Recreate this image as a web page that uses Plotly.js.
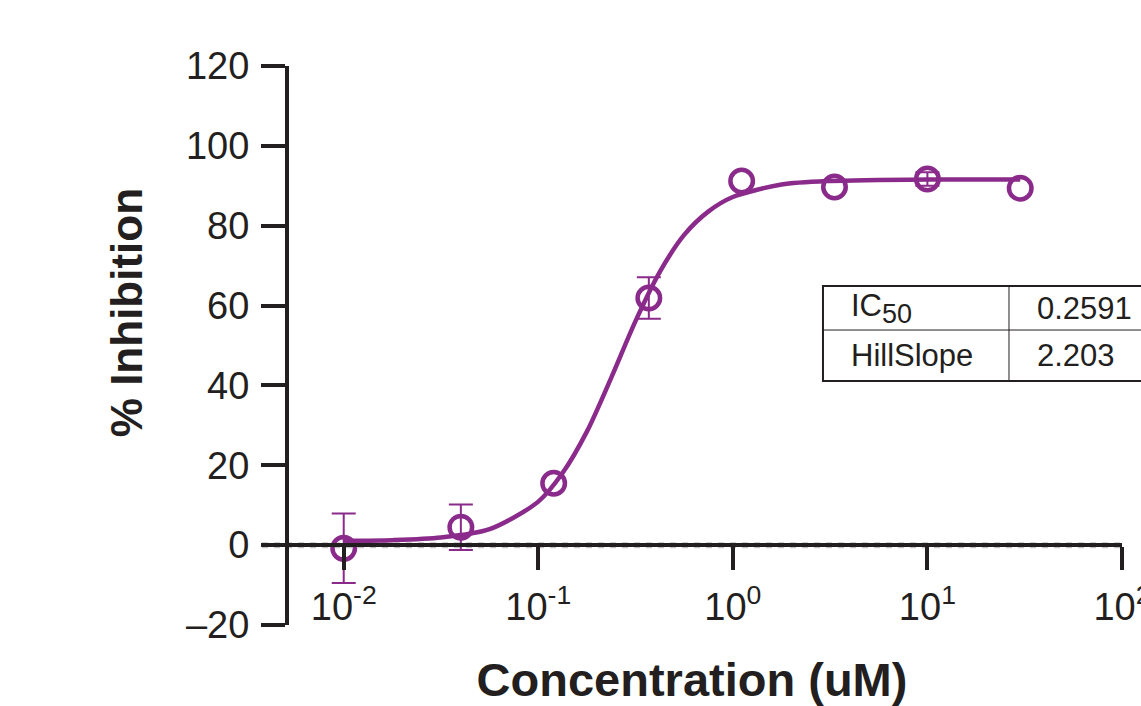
<!DOCTYPE html>
<html>
<head>
<meta charset="utf-8">
<script src="https://cdn.plot.ly/plotly-3.0.1.min.js"></script>
<style>html,body{margin:0;padding:0;background:#fff;}#chart{width:1141px;height:706px;}</style>
</head>
<body>
<div id="chart"></div>
<script>
// Measured data (concentration in uM, % inhibition, SD; null = bar hidden inside the marker)
const conc = [0.01, 0.04, 0.12, 0.37, 1.11, 3.33, 10, 30];
const inhibition = [-0.8, 4.5, 15.5, 61.9, 91.2, 89.7, 91.7, 89.4];
const errorSD = [8.7, 5.7, null, 5.2, null, null, 1.7, null];

// Fitted curve
const curveConc = [0.01, 0.0178, 0.0316, 0.0562, 0.1, 0.133, 0.178, 0.237, 0.316, 0.422, 0.562, 0.75, 1.0, 1.78, 3.16, 10, 30];
const curveInh = [1.1, 1.25, 1.9, 4.0, 10.9, 18.0, 28.5, 41.9, 56.1, 68.5, 77.7, 83.6, 87.2, 90.3, 91.2, 91.6, 91.6];

// Axis ticks
const xTickVals = [0.01, 0.1, 1, 10, 100];
const xTickText = ['10<sup>-2</sup>', '10<sup>-1</sup>', '10<sup>0</sup>', '10<sup>1</sup>', '10<sup>2</sup>'];
const yTickVals = [-20, 0, 20, 40, 60, 80, 100, 120];
const yTickText = ['\u201320', '0', '20', '40', '60', '80', '100', '120'];

// Fit table
const tableLabels = ['IC<sub><span style="font-size:27px">50</span></sub>', 'HillSlope'];
const tableValues = ['0.2591', '2.203'];

const purple = '#8a2a8b';
const ink = '#231f20';
const font = 'Liberation Sans, Arial, Helvetica, sans-serif';

// split points into those with visible error bars and those without
const withErr = {x: [], y: [], e: []}, noErr = {x: [], y: []};
conc.forEach((c, i) => {
  if (errorSD[i] != null) { withErr.x.push(c); withErr.y.push(inhibition[i]); withErr.e.push(errorSD[i]); }
  else { noErr.x.push(c); noErr.y.push(inhibition[i]); }
});

const markerStyle = {symbol: 'circle-open', size: 22.5, color: purple, line: {width: 4.5, color: purple}};

const traces = [
  {
    x: curveConc, y: curveInh, type: 'scatter', mode: 'lines',
    line: {color: purple, width: 4.5, shape: 'spline', smoothing: 0.8},
    hoverinfo: 'skip', showlegend: false
  },
  {
    x: withErr.x, y: withErr.y, type: 'scatter', mode: 'markers',
    marker: markerStyle,
    error_y: {type: 'data', array: withErr.e, visible: true, color: purple, thickness: 2, width: 12},
    showlegend: false
  },
  {
    x: noErr.x, y: noErr.y, type: 'scatter', mode: 'markers',
    marker: markerStyle,
    showlegend: false
  }
];

const tblX0 = 0.6523, tblX1 = 0.8686, tblX2 = 1.06;
const tblY0 = 0.6064, tblY1 = 0.5277, tblY2 = 0.4365;

const shapes = [
  {type: 'line', xref: 'paper', yref: 'y', x0: 0, x1: 1, y0: 0, y1: 0, layer: 'below',
   line: {color: '#c4c4c4', width: 6, dash: 'dot'}},
  {type: 'rect', xref: 'paper', yref: 'paper', x0: tblX0, x1: tblX2, y0: tblY2, y1: tblY0,
   line: {color: ink, width: 2}, fillcolor: 'rgba(255,255,255,1)', layer: 'above'},
  {type: 'line', xref: 'paper', yref: 'paper', x0: tblX0, x1: tblX2, y0: tblY1, y1: tblY1,
   line: {color: ink, width: 1}},
  {type: 'line', xref: 'paper', yref: 'paper', x0: tblX1, x1: tblX1, y0: tblY2, y1: tblY0,
   line: {color: ink, width: 1}}
];

const rowY = [(tblY0 + tblY1) / 2, (tblY1 + tblY2) / 2];
const annotations = [];
for (let i = 0; i < tableLabels.length; i++) {
  annotations.push({xref: 'paper', yref: 'paper', x: tblX0 + 0.03, y: rowY[i], text: tableLabels[i],
    showarrow: false, xanchor: 'left', yanchor: 'middle', font: {family: font, size: 31, color: ink}});
  annotations.push({xref: 'paper', yref: 'paper', x: tblX1 + 0.03, y: rowY[i], text: tableValues[i],
    showarrow: false, xanchor: 'left', yanchor: 'middle', font: {family: font, size: 31, color: ink}});
}
// y-axis title (placed as annotation to match vertical position)
annotations.push({xref: 'paper', yref: 'paper', x: -0.158, y: 0.558, text: '<b>% Inhibition</b>',
  textangle: -90, showarrow: false, xanchor: 'center', yanchor: 'middle',
  font: {family: font, size: 44, color: ink}});

const layout = {
  width: 1141, height: 706,
  margin: {l: 262, r: 19, t: 66, b: 81},
  paper_bgcolor: '#ffffff', plot_bgcolor: 'rgba(0,0,0,0)',
  showlegend: false,
  xaxis: {
    type: 'log', range: [-2.42, 2.0002],
    anchor: 'free', position: 20 / 140,
    tickvals: xTickVals, ticktext: xTickText,
    ticks: 'outside', ticklen: 23, tickwidth: 4, tickcolor: ink,
    showline: true, linewidth: 4, linecolor: ink,
    showgrid: false, zeroline: false,
    tickfont: {family: font, size: 38, color: ink},
    ticklabelstandoff: 4,
    ticklabeloverflow: 'allow',
    title: {text: '<b>Concentration (uM)</b>', font: {family: font, size: 47, color: ink}, standoff: 36}
  },
  yaxis: {
    range: [-20, 120],
    anchor: 'free', position: 25 / 860,
    tickvals: yTickVals, ticktext: yTickText,
    ticks: 'outside', ticklen: 24, tickwidth: 4, tickcolor: ink,
    showline: true, linewidth: 4, linecolor: ink,
    showgrid: false, zeroline: false,
    tickfont: {family: font, size: 38, color: ink},
    ticklabelstandoff: 4
  },
  shapes: shapes,
  annotations: annotations
};

Plotly.newPlot('chart', traces, layout, {displayModeBar: false, staticPlot: true});
</script>
</body>
</html>
